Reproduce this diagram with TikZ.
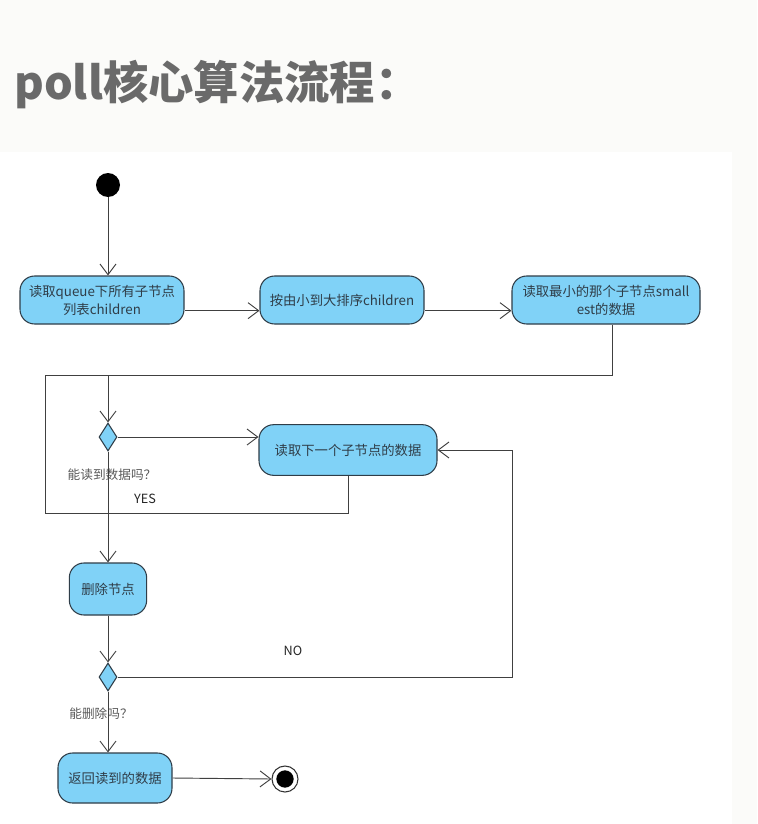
\documentclass[tikz,border=0pt]{standalone}
\usepackage{fontspec}
\setmainfont{Noto Sans CJK SC}
\usetikzlibrary{arrows.meta,shapes.geometric}
\definecolor{actfill}{HTML}{80D2F7}
\definecolor{actline}{HTML}{2F3D48}
\definecolor{titlegray}{HTML}{6A6A6A}
\definecolor{paper}{HTML}{FBFBF9}
\tikzset{
  act/.style={draw=actline, fill=actfill, line width=0.8pt, rounded corners=11pt, inner sep=0pt, align=center, font=\fontsize{10}{13.5}\selectfont, text=actline},
  dec/.style={diamond, draw=actline, fill=actfill, line width=0.8pt, inner sep=0pt, minimum width=13.5pt, minimum height=21pt},
  lbl/.style={font=\fontsize{9.5}{12}\selectfont, text=black!65},
  flow/.style={draw=black!75, line width=0.7pt, -{Straight Barb[length=8pt,width=12pt]}},
  link/.style={draw=black!75, line width=0.7pt}
}
\begin{document}
\begin{tikzpicture}[x=0.75pt, y=-0.75pt]
  \useasboundingbox (0,0) rectangle (757,824);
  \fill[paper] (0,0) rectangle (757,824);
  \fill[white] (0,152) rectangle (732,824);
  \node[anchor=base west, inner sep=0pt, text=titlegray, font=\fontsize{34}{40}\selectfont\bfseries] (title) at (14,99) {poll核心算法流程：};

  \node[circle, fill=black, minimum size=18pt, inner sep=0pt] (start) at (108,185) {};
  \node[act, minimum width=123pt, minimum height=36pt] (n1) at (102,300) {读取queue下所有子节点\\列表children};
  \node[act, minimum width=123pt, minimum height=36pt] (n2) at (342,300) {按由小到大排序children};
  \node[act, minimum width=141pt, minimum height=36pt] (n3) at (606,300) {读取最小的那个子节点small\\est的数据};
  \node[dec] (d1) at (108,437) {};
  \node[act, minimum width=133.5pt, minimum height=38pt] (n4) at (348,450) {读取下一个子节点的数据};
  \node[act, minimum width=58pt, minimum height=39pt] (n5) at (108,589) {删除节点};
  \node[dec] (d2) at (108,677) {};
  \node[act, minimum width=85.5pt, minimum height=37.5pt] (n6) at (115,778) {返回读到的数据};
  \node[circle, draw=black!80, line width=0.8pt, minimum size=19.5pt, inner sep=0pt] (end) at (285,779) {};
  \node[circle, fill=black, minimum size=13pt, inner sep=0pt] (endin) at (end) {};

  \node[lbl] (q1) at (112,475) {能读到数据吗？};
  \node[lbl, text=black!85] (yes) at (145,499) {YES};
  \node[lbl, text=black!85] (no) at (293,651) {NO};
  \node[lbl] (q2) at (101,714) {能删除吗？};

  \coordinate (m) at (108,375);
  \coordinate (lt) at (45,375);
  \coordinate (lb) at (45,513);
  \coordinate (r) at (512,677);

  \draw[flow] (start) -- (start |- n1.north);
  \draw[flow] ([yshift=-8pt]n1.east) -- ([yshift=-8pt]n2.west);
  \draw[flow] ([yshift=-8pt]n2.east) -- ([yshift=-8pt]n3.west);
  \draw[flow] ([xshift=4.5pt]n3.south) |- (m) -- (d1.north);
  \draw[link] (n4.south) |- (lb) -- (lt) -- (m);
  \draw[flow] (d1.east) -- (n4.west |- d1.east);
  \draw[flow] (d1.south) -- (n5.north);
  \draw[flow] (n5.south) -- (d2.north);
  \draw[flow] (d2.east) -- (r) |- (n4.east);
  \draw[flow] (d2.south) -- (d2.south |- n6.north);
  \draw[flow] (n6.east) -- (end.west);
\end{tikzpicture}
\end{document}
